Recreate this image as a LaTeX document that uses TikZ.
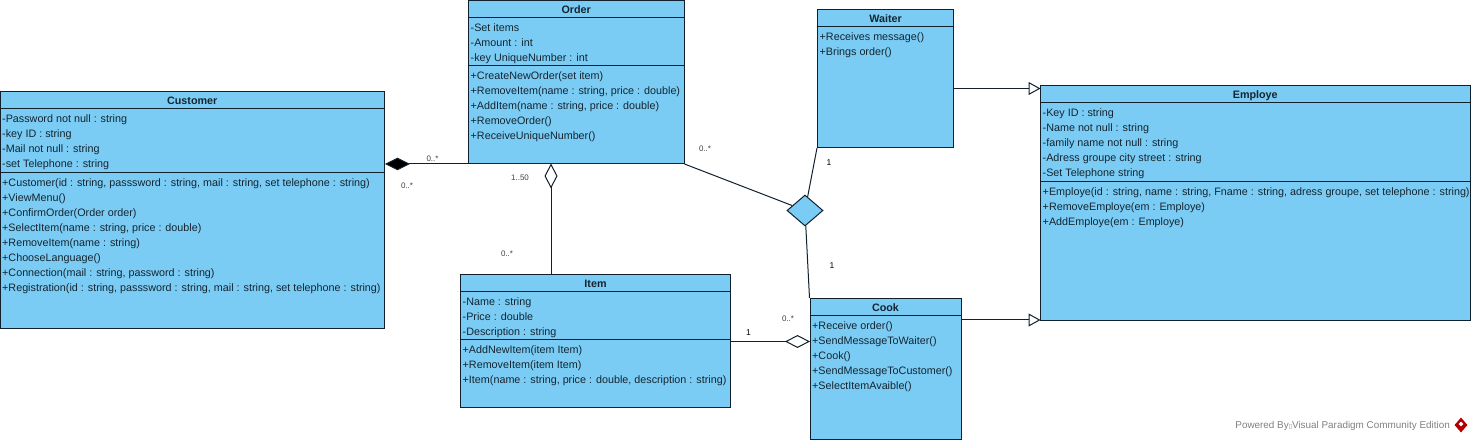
\documentclass[tikz,border=0pt]{standalone}
\usepackage{fontspec}
\setmainfont{Liberation Sans}
\newfontfamily\dejavu{DejaVu Sans}
\usetikzlibrary{arrows.meta,shapes.geometric}
\definecolor{umlfill}{HTML}{7ACCF5}
\definecolor{umlline}{HTML}{10202C}
\definecolor{umltext}{HTML}{152530}
\newcommand{\fsize}{\fontsize{10.77}{15}\selectfont}
\newcommand{\fl}{\rule{0pt}{11pt}}
% id, x1, y1, x2, y2
\newcommand{\classbox}[5]{\node[classnode,minimum width={#4-(#2)},minimum height={#5-(#3)}] (#1) at ({(#2+#4)/2},{(#3+#5)/2}) {};}
\newcommand{\classtitle}[3]{\node[titlenode] (#2) at (#1.north) {#3};
  \draw[sepline] (#1.west |- #2.south) -- (#1.east |- #2.south);}
\tikzset{
  classnode/.style={draw=umlline,fill=umlfill,line width=1pt,rectangle,inner sep=0pt},
  titlenode/.style={anchor=north,minimum height=17pt,inner sep=0pt,yshift=0pt,font=\fsize\bfseries,text=umltext,text depth=0pt,text height=10pt},
  sepline/.style={draw=umlline,line width=1pt},
  members/.style={anchor=north west,inner sep=0pt,align=left,font=\fsize,text=umltext},
  conn/.style={draw=umlline,line width=1pt},
  comp/.style={conn,{Diamond[length=25pt,width=12.5pt,fill=black]}-},
  aggr/.style={conn,{Diamond[length=25pt,width=13pt,fill=white]}-},
  gener/.style={conn,-{Triangle[length=12pt,width=13pt,fill=white]}},
  relnode/.style={diamond,draw=umlline,fill=umlfill,line width=1pt,inner sep=0pt,minimum width=36pt,minimum height=31pt},
  multi/.style={inner sep=0pt,font=\fontsize{8}{9}\selectfont,text=black!75},
  mark1/.style={inner sep=0pt,font=\fontsize{8.5}{10}\selectfont,text=black},
}
\begin{document}
\begin{tikzpicture}[x=1pt,y=-1pt]
\useasboundingbox (0,0) rectangle (1473,443);
% Customer
\classbox{cust}{0}{91.5}{384.5}{329}
\classtitle{cust}{custT}{Customer}
\coordinate (custS) at (0,172.5);
\draw[sepline] (cust.west |- custS) -- (cust.east |- custS);
\node[members] (custA) at (2,111) {\fl -Password not null : string\\-key ID : string\\-Mail not null : string\\-set Telephone : string};
\node[members] (custO) at (2,175) {\fl +Customer(id : string, passsword : string, mail : string, set telephone : string)\\+ViewMenu()\\+ConfirmOrder(Order order)\\+SelectItem(name : string, price : double)\\+RemoveItem(name : string)\\+ChooseLanguage()\\+Connection(mail : string, password : string)\\+Registration(id : string, passsword : string, mail : string, set telephone : string)};
% Order
\classbox{order}{468.5}{0.5}{684}{163.5}
\classtitle{order}{orderT}{Order}
\coordinate (orderS) at (468.5,66);
\draw[sepline] (order.west |- orderS) -- (order.east |- orderS);
\node[members] (orderA) at (470.5,20) {\fl -Set items\\-Amount : int\\-key UniqueNumber : int};
\node[members] (orderO) at (470.5,68.5) {\fl +CreateNewOrder(set item)\\+RemoveItem(name : string, price : double)\\+AddItem(name : string, price : double)\\+RemoveOrder()\\+ReceiveUniqueNumber()};
% Waiter
\classbox{waiter}{817.5}{9.5}{953.5}{147.5}
\classtitle{waiter}{waiterT}{Waiter}
\node[members] (waiterO) at (819.5,29) {\fl +Receives message()\\+Brings order()};
% Employe
\classbox{emp}{1040.5}{85.5}{1470}{320.5}
\classtitle{emp}{empT}{Employe}
\coordinate (empS) at (1040.5,181.5);
\draw[sepline] (emp.west |- empS) -- (emp.east |- empS);
\node[members] (empA) at (1042.5,105) {\fl -Key ID : string\\-Name not null : string\\-family name not null : string\\-Adress groupe city street : string\\-Set Telephone string};
\node[members] (empO) at (1042.5,184) {\fl +Employe(id : string, name : string, Fname : string, adress groupe, set telephone : string)\\+RemoveEmploye(em : Employe)\\+AddEmploye(em : Employe)};
% Item
\classbox{item}{460.5}{274.5}{730.5}{407.5}
\classtitle{item}{itemT}{Item}
\coordinate (itemS) at (460.5,340);
\draw[sepline] (item.west |- itemS) -- (item.east |- itemS);
\node[members] (itemA) at (462.5,294) {\fl -Name : string\\-Price : double\\-Description : string};
\node[members] (itemO) at (462.5,342.5) {\fl +AddNewItem(item Item)\\+RemoveItem(item Item)\\+Item(name : string, price : double, description : string)};
% Cook
\classbox{cook}{810}{298.5}{961}{439.5}
\classtitle{cook}{cookT}{Cook}
\node[members] (cookO) at (812,318) {\fl +Receive order()\\+SendMessageToWaiter()\\+Cook()\\+SendMessageToCustomer()\\+SelectItemAvaible()};
% relation diamond
\node[relnode] (rel) at (805,210.5) {};
% connectors
\draw[comp] (cust.east |- order.south) -- (order.south west);
\coordinate (aggrTop) at (551,163.5);
\draw[aggr] (aggrTop) -- (aggrTop |- item.north);
\coordinate (aggrCook) at (810,341.5);
\draw[aggr] (aggrCook) -- (item.east |- aggrCook);
\draw[conn] (order.south east) -- (rel);
\draw[conn] (waiter.south west) -- (rel);
\draw[conn] (cook.north west) -- (rel);
\coordinate (genA) at (1040.5,88.5);
\coordinate (genB) at (1040.5,320);
\draw[gener] (waiter.east |- genA) -- (genA);
\draw[gener] (cook.east |- genB) -- (genB);
% multiplicities
\node[multi] (m1) at (432.5,159) {0..*};
\node[multi] (m2) at (407,186) {0..*};
\node[multi] (m3) at (520,178) {1..50};
\node[multi] (m4) at (507,254) {0..*};
\node[multi] (m5) at (705,149) {0..*};
\node[mark1] (m6) at (829,163) {1};
\node[mark1] (m7) at (832,266) {1};
\node[mark1] (m8) at (748.5,333) {1};
\node[multi] (m9) at (788,319) {0..*};
% watermark
\node[anchor=east,inner sep=0pt,font=\fontsize{9.9}{11}\selectfont,text=black!50] (wm) at (1450,426) {Powered By{\dejavu\fontsize{6}{8}\selectfont ▯}Visual Paradigm Community Edition};
\node[diamond,fill=red!70!black,inner sep=0pt,minimum width=13pt,minimum height=15pt] (logo) at (1461,425) {};
\node[diamond,fill=white,inner sep=0pt,minimum width=5pt,minimum height=5pt] (logoin) at (1461,424) {};
\end{tikzpicture}
\end{document}
